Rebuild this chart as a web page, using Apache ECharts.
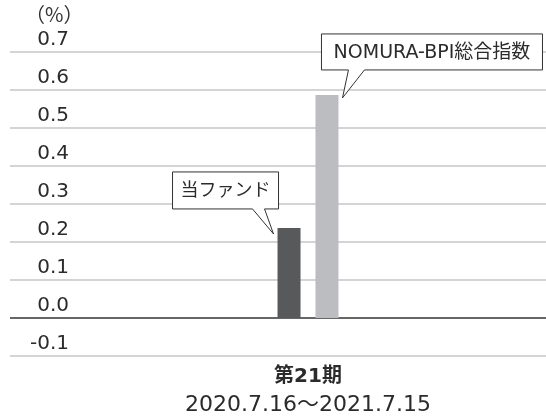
<!DOCTYPE html>
<html>
<head>
    <meta charset="utf-8">
    <title>第21期 騰落率</title>
    <script src="https://cdn.jsdelivr.net/npm/echarts@6/dist/echarts.min.js"></script>
    <style>
        html, body { margin: 0; padding: 0; background: #fff; }
        #chart-container { width: 546px; height: 419px; }
    </style>
</head>
<body>
<div id="chart-container"></div>
<script>
    // データ
    var categories = ['第21期'];
    var periods = ['2020.7.16～2021.7.15'];
    var seriesNames = ['当ファンド', 'NOMURA-BPI総合指数'];
    var fundValues = [0.237];
    var indexValues = [0.587];
    var yTicks = [-0.1, 0.0, 0.1, 0.2, 0.3, 0.4, 0.5, 0.6, 0.7];

    var FONT = '"DejaVu Sans", "Noto Sans CJK JP", sans-serif';
    var CJK = '"Noto Sans CJK JP", sans-serif';
    var gridColor = '#c6c6c6';
    // 0.0 の線だけ濃くする
    var lineColors = yTicks.map(function (v) { return v === 0 ? '#333333' : gridColor; });

    var myChart = echarts.init(document.getElementById('chart-container'));

    var option = {
        animation: false,
        textStyle: { fontFamily: FONT },
        title: {
            text: '（%）',
            left: 20,
            top: -1,
            textStyle: { fontSize: 20, fontWeight: 'normal', color: '#333', fontFamily: CJK }
        },
        grid: [
            { left: 70, right: 0, top: 52, bottom: 63 },
            { left: 10, width: 60, top: 52, bottom: 63 }
        ],
        xAxis: [{
            type: 'category',
            gridIndex: 0,
            data: categories,
            axisLine: { show: false },
            axisTick: { show: false },
            axisLabel: {
                margin: 7,
                formatter: function (v, i) {
                    return '{a|' + v + '}\n{b|' + periods[i] + '}';
                },
                rich: {
                    a: { fontSize: 20, fontWeight: 'bold', color: '#2b2b2b', lineHeight: 27, fontFamily: FONT },
                    b: { fontSize: 22, color: '#2b2b2b', lineHeight: 30, fontFamily: FONT }
                }
            }
        }, {
            type: 'category',
            gridIndex: 1,
            data: categories,
            show: false
        }],
        yAxis: [{
            type: 'value',
            gridIndex: 0,
            min: -0.1,
            max: 0.7,
            interval: 0.1,
            axisLine: { show: false },
            axisTick: { show: false },
            axisLabel: {
                margin: 1,
                verticalAlign: 'bottom',
                padding: [0, 0, 2, 0],
                fontSize: 20,
                color: '#2b2b2b',
                fontFamily: FONT,
                formatter: function (v) { return v.toFixed(1); }
            },
            splitLine: { lineStyle: { color: lineColors, width: 1.5 } }
        }, {
            type: 'value',
            gridIndex: 1,
            min: -0.1,
            max: 0.7,
            interval: 0.1,
            axisLine: { show: false },
            axisTick: { show: false },
            axisLabel: { show: false },
            splitLine: { lineStyle: { color: lineColors, width: 1.5 } }
        }],
        series: [{
            name: seriesNames[0],
            type: 'bar',
            data: fundValues,
            barWidth: 23,
            barGap: '65%',
            itemStyle: { color: '#58595b' }
        }, {
            name: seriesNames[1],
            type: 'bar',
            data: indexValues,
            barWidth: 23,
            itemStyle: { color: '#bcbdc0' }
        }]
    };

    myChart.setOption(option);

    // 吹き出し（バーの位置から計算）
    function barTop(seriesIndex, value) {
        var layout = myChart.getModel().getSeriesByIndex(seriesIndex).getData().getItemLayout(0);
        var y = myChart.convertToPixel({ gridIndex: 0 }, [0, value])[1];
        return { x: layout.x, w: layout.width, y: y };
    }

    function callout(box, tip, base, text, size) {
        var x0 = box.x, y0 = box.y, x1 = box.x + box.w, y1 = box.y + box.h;
        var pts = [[x0, y0], [x1, y0], [x1, y1], [base[1], y1], tip, [base[0], y1], [x0, y1]];
        return [{
            type: 'polygon',
            shape: { points: pts },
            style: { fill: '#fff', stroke: '#333', lineWidth: 1 },
            z: 10
        }, {
            type: 'text',
            x: box.x + box.w / 2,
            y: box.y + box.h / 2 + 1,
            style: {
                text: text, fontSize: size, fill: '#2b2b2b', fontFamily: FONT,
                align: 'center', verticalAlign: 'middle'
            },
            z: 11
        }];
    }

    var b0 = barTop(0, fundValues[0]);
    var b1 = barTop(1, indexValues[0]);
    var g = [];
    g = g.concat(callout(
        { x: b0.x - 105, y: b0.y - 56, w: 106, h: 37 },
        [b0.x - 4, b0.y + 6],
        [b0.x - 25, b0.x - 13],
        seriesNames[0], 18
    ));
    g = g.concat(callout(
        { x: b1.x + b1.w - 17, y: b1.y - 61, w: 221, h: 36 },
        [b1.x + b1.w + 4, b1.y + 3],
        [b1.x + b1.w + 10, b1.x + b1.w + 26],
        seriesNames[1], 19
    ));
    myChart.setOption({ graphic: g });
</script>
</body>
</html>
